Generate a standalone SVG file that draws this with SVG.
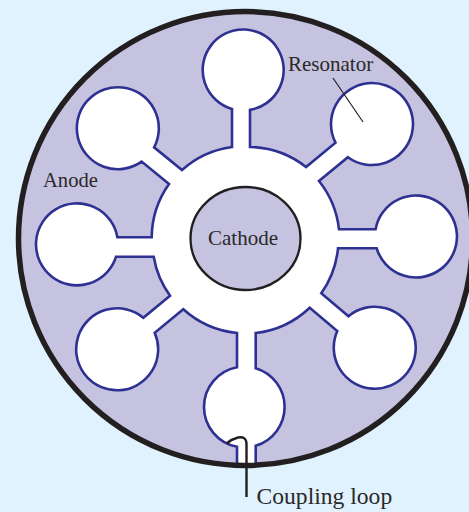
<svg xmlns="http://www.w3.org/2000/svg" width="469" height="512" viewBox="0 0 469 512">
<style>
.t{font-family:"Liberation Serif","Times New Roman",serif;fill:#2b2829}
.ld{fill:none;stroke:#231f20;stroke-linecap:butt;stroke-linejoin:round}
</style>
<rect width="469" height="512" fill="#dff2fd"/>
<g id="anode">
<circle cx="245.5" cy="238.5" r="227" fill="#c5c3e0"/>
<path fill="#fff" stroke="#2e3192" stroke-width="2.6" stroke-linejoin="miter" d="M232 147L232 108.900A40.500 40.500 0 1 1 250 109.900L250 147A94 94 0 0 1 306 167L335.500 142.700A41 41 0 1 1 347.900 157.200L319 181A94 94 0 0 1 339 229.300L375.600 229.300A41 41 0 1 1 376.700 248.300L338 248.300A94 94 0 0 1 321.300 293.300L348.500 316.200A41 41 0 1 1 337.300 331L309.700 307.700A94 94 0 0 1 255.700 333L255.700 368.200A40.500 40.500 0 0 1 255.700 445.800L255.700 465L237 465L237 446.800A40.500 40.500 0 0 1 237 367.200L237 333A94 94 0 0 1 183.300 309.300L154.700 332.800A41 41 0 1 1 143.300 317.700L170 295.700A94 94 0 0 1 153.700 256.700L116.100 256.700A41 41 0 1 1 117.400 237.300L151.700 237.300A94 94 0 0 1 169 184L141.600 161.600A41 41 0 1 1 154.100 147.300L182 170A94 94 0 0 1 232 147Z"/>
<circle cx="245.500" cy="238.500" r="227" fill="none" stroke="#231f20" stroke-width="5.500"/>
<text class="t" x="43" y="187" font-size="20.600">Anode</text>
</g>
<g id="cathode">
<ellipse cx="245.500" cy="238.500" rx="55" ry="51.500" fill="#c5c3e0" stroke="#231f20" stroke-width="2.400"/>
<text class="t" x="208" y="245" font-size="21">Cathode</text>
</g>
<g id="connectors">
<path class="ld" stroke-width="1.200" d="M333 78L363 122"/>
<path class="ld" stroke-width="2.400" d="M246.500 497L246.500 444Q246.500 436 238 437.500Q232 439 226.500 443.500"/>
</g>
<g id="resonator-label"><text class="t" x="288" y="70.500" font-size="21">Resonator</text></g>
<g id="coupling-label"><text class="t" x="256.500" y="503.500" font-size="23.600">Coupling loop</text></g>
</svg>
